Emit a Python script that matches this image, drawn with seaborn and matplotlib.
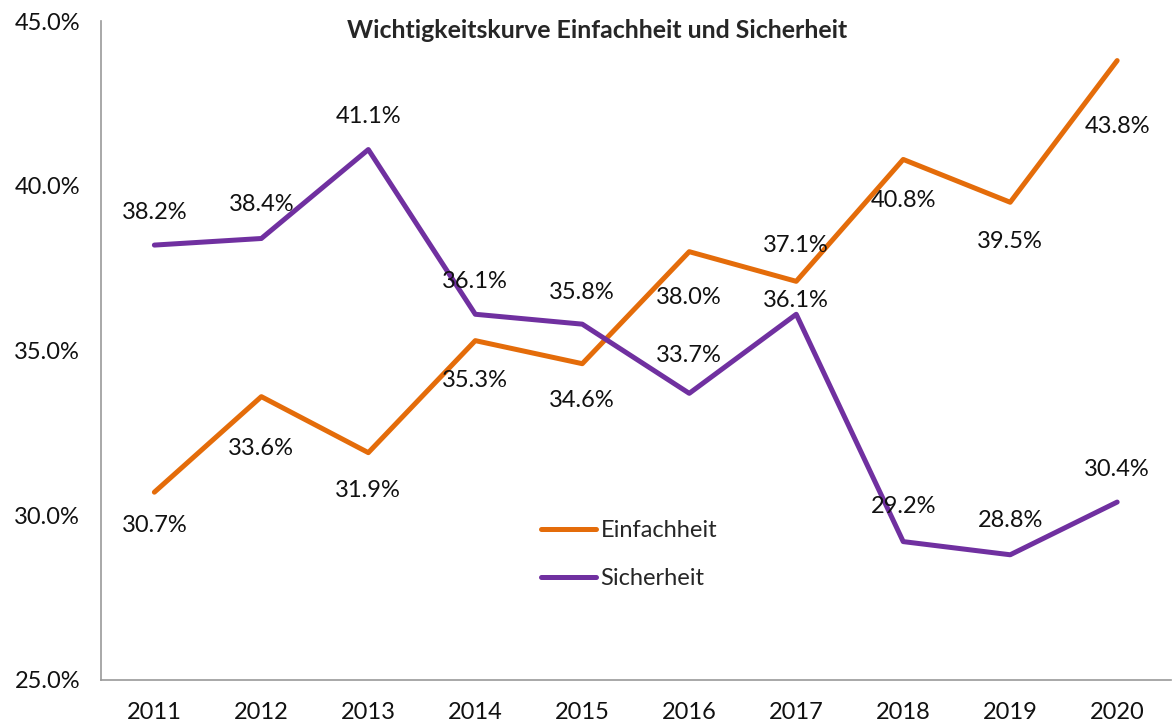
import numpy as np
import pandas as pd
import seaborn as sns
import matplotlib.pyplot as plt
from matplotlib.ticker import FixedLocator

# Daten
jahre = ["2011", "2012", "2013", "2014", "2015", "2016", "2017", "2018", "2019", "2020"]
einfachheit = [30.7, 33.6, 31.9, 35.3, 34.6, 38.0, 37.1, 40.8, 39.5, 43.8]
sicherheit = [38.2, 38.4, 41.1, 36.1, 35.8, 33.7, 36.1, 29.2, 28.8, 30.4]

# Versatz der Datenbeschriftungen (Pixel, positiv = nach unten)
off_einf = [33, 52, 38, 40, 37, 46, -36, 41, 39, 66]
off_sich = [-33, -34, -33, -33, -32, -38, -14, -35, -34, -33]

farben = {"Einfachheit": "#E46C0A", "Sicherheit": "#7030A0"}

df = pd.DataFrame({
    "Jahr": jahre * 2,
    "Wert": einfachheit + sicherheit,
    "Reihe": ["Einfachheit"] * len(jahre) + ["Sicherheit"] * len(jahre),
})

sns.set_style("white")
plt.rcParams["font.family"] = ["Lato", "DejaVu Sans"]
fs = 17

fig = plt.figure(figsize=(11.73, 7.26), dpi=100)
ax = fig.add_axes([0.086, 0.0634, 0.912, 0.9076])

sns.lineplot(data=df, x="Jahr", y="Wert", hue="Reihe", palette=farben,
             linewidth=3.6, ax=ax, sort=False)

ax.set_xlim(-0.5, len(jahre) - 0.5)
ax.set_ylim(25, 45)
ax.set_yticks([25, 30, 35, 40, 45])
ax.set_yticklabels([f"{v:.1f}%" for v in [25, 30, 35, 40, 45]], fontsize=fs)
ax.set_xticks(range(len(jahre)))
ax.set_xticklabels(jahre, fontsize=fs)
ax.xaxis.set_minor_locator(FixedLocator(np.arange(-0.5, len(jahre), 1.0)))
ax.tick_params(axis="x", which="major", length=0, pad=16, labelcolor="#111111")
ax.tick_params(axis="x", which="minor", length=5, color="#999999", width=1.2)
ax.tick_params(axis="y", length=5, color="#999999", width=1.2, pad=10,
               labelcolor="#111111")
ax.set_xlabel("")
ax.set_ylabel("")

for s in ["top", "right"]:
    ax.spines[s].set_visible(False)
for s in ["left", "bottom"]:
    ax.spines[s].set_color("#999999")
    ax.spines[s].set_linewidth(1.2)

# Datenbeschriftungen
for werte, offs in [(einfachheit, off_einf), (sicherheit, off_sich)]:
    for i, (v, o) in enumerate(zip(werte, offs)):
        ax.annotate(f"{v:.1f}%", (i, v), xytext=(0, -o * 0.72),
                    textcoords="offset points", ha="center", va="center",
                    fontsize=fs, color="#111111")

ax.set_title("Wichtigkeitskurve Einfachheit und Sicherheit", fontsize=17.9,
             fontweight="bold", y=0.962, x=0.464)

leg = ax.legend(loc="upper left", bbox_to_anchor=(0.392, 0.275), frameon=False,
                fontsize=fs, handlelength=2.3, handletextpad=0.2,
                labelspacing=1.15)

fig.savefig("out.png", dpi=100)
